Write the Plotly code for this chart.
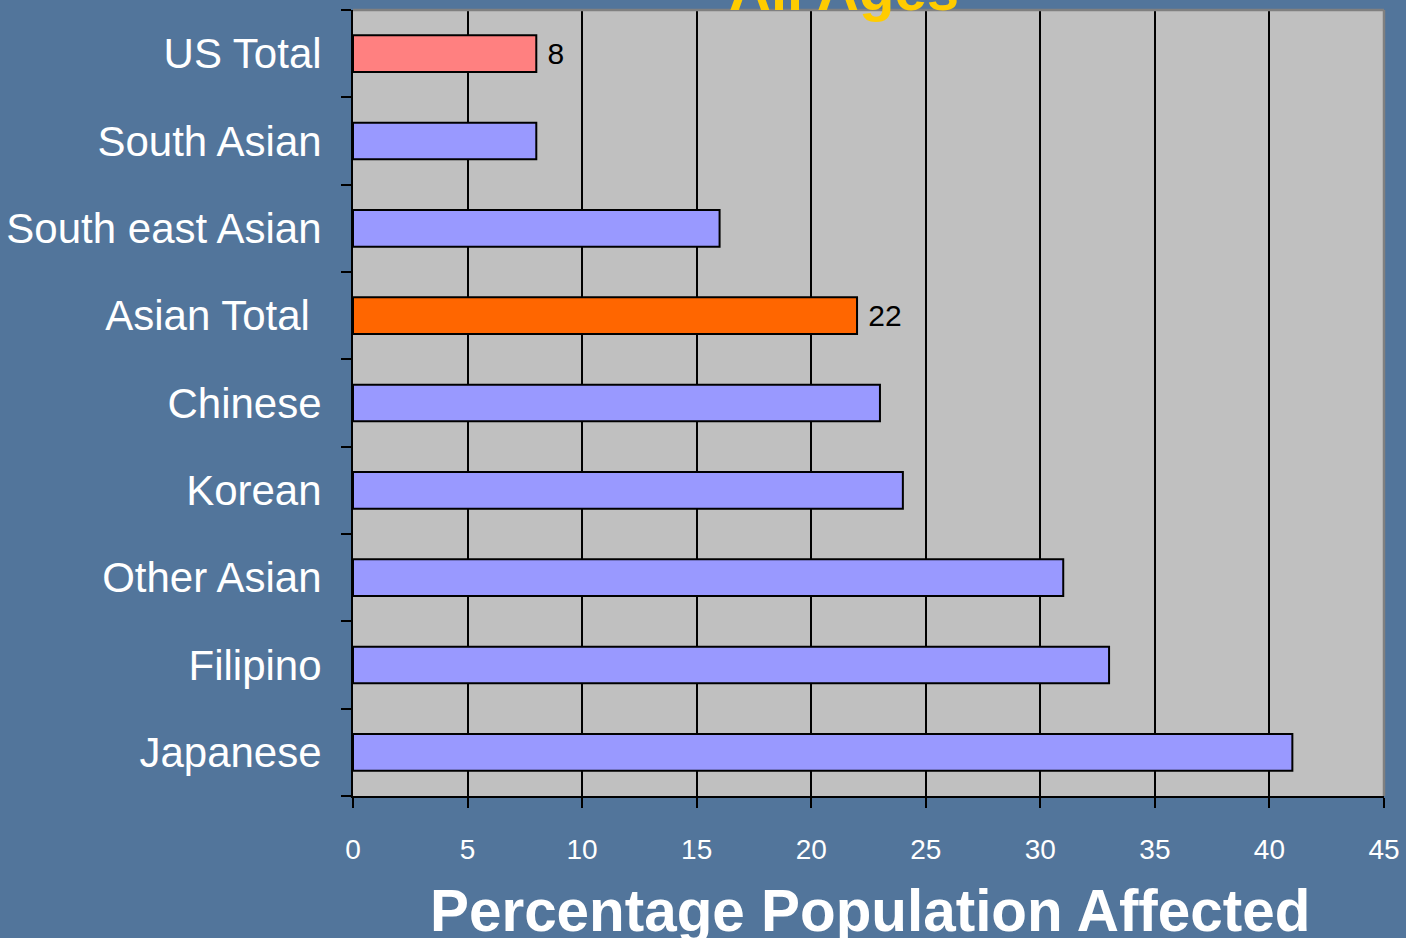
import plotly.graph_objects as go

categories = ["US Total", "South Asian", "South east Asian", "Asian Total", "Chinese",
              "Korean", "Other Asian", "Filipino", "Japanese"]
tick_labels = ["US Total", "South Asian", "South east Asian", "Asian Total\u00a0", "Chinese",
               "Korean", "Other Asian", "Filipino", "Japanese"]
values = [8, 8, 16, 22, 23, 24, 31, 33, 41]
bar_labels = ["8", "", "", "22", "", "", "", "", ""]
bar_colors = ["#FF8080", "#9999FF", "#9999FF", "#FF6600", "#9999FF",
              "#9999FF", "#9999FF", "#9999FF", "#9999FF"]
x_ticks = [0, 5, 10, 15, 20, 25, 30, 35, 40, 45]
title_text = "All Ages"
x_title = "Percentage Population Affected"

BG = "rgb(82,117,155)"
FONT = "Liberation Sans, Arial, sans-serif"

fig = go.Figure()
fig.add_trace(go.Bar(
    y=categories, x=values, orientation="h",
    marker=dict(color=bar_colors, line=dict(color="black", width=2)),
    text=["\u00a0" + t if t else "" for t in bar_labels],
    textposition="outside", constraintext="none",
    textfont=dict(family=FONT, size=30, color="black"),
    cliponaxis=False,
))

fig.update_layout(
    width=1406, height=938,
    margin=dict(l=353, r=22, t=10, b=142, autoexpand=False),
    paper_bgcolor=BG, plot_bgcolor="#C0C0C0",
    bargap=0.58, showlegend=False,
    font=dict(family=FONT, color="white"),
    xaxis=dict(
        range=[0, 45], tickvals=x_ticks, ticks="outside", ticklen=10, tickwidth=2,
        tickcolor="black", showgrid=True, gridcolor="black", gridwidth=1.5,
        showline=True, linecolor="black", linewidth=2, zeroline=False,
        tickfont=dict(family=FONT, size=28, color="white"), ticklabelstandoff=17,
        mirror=False, automargin=False,
    ),
    yaxis=dict(
        categoryorder="array", categoryarray=categories, autorange="reversed",
        tickmode="array", tickvals=categories, ticktext=tick_labels,
        ticks="outside", ticklen=10, tickwidth=2, tickcolor="black", tickson="boundaries",
        showgrid=False, showline=True, linecolor="black", linewidth=2,
        tickfont=dict(family=FONT, size=42, color="white"), ticklabelstandoff=21,
        automargin=False,
    ),
    shapes=[
        dict(type="line", xref="paper", yref="paper", x0=0, x1=1, y0=1, y1=1,
             line=dict(color="#808080", width=2.5)),
        dict(type="line", xref="paper", yref="paper", x0=1, x1=1, y0=0, y1=1,
             line=dict(color="#808080", width=2.5)),
    ],
    annotations=[
        dict(text="<b>" + title_text + "</b>", xref="paper", yref="paper",
             x=(844 - 353) / 1031, y=(796 - 24) / 786, xanchor="center", yanchor="bottom",
             showarrow=False, font=dict(family=FONT, size=58, color="#FFCC00")),
        dict(text="<b>" + x_title + "</b>", xref="paper", yref="paper",
             x=(870 - 353) / 1031, y=(796 - 945) / 786, xanchor="center", yanchor="bottom",
             showarrow=False, font=dict(family=FONT, size=58.4, color="white")),
    ],
)

fig.write_html("out.html", config={"displayModeBar": False},
               post_script="document.body.style.margin='0';document.body.style.overflow='hidden';")
